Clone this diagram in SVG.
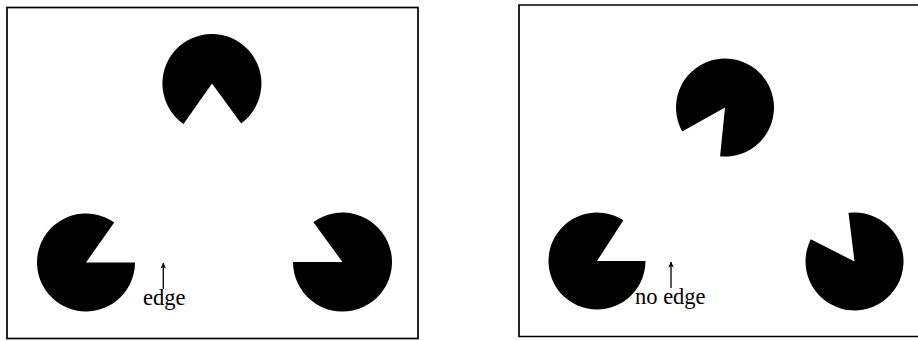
<svg xmlns="http://www.w3.org/2000/svg" width="918" height="341" viewBox="0 0 918 341">
<style>
.frame{fill:none;stroke:#000;stroke-width:1.7}
.pac{fill:#000}
.lbl{font-family:"Liberation Serif","Times New Roman",serif;font-size:22.5px;fill:#000}
.arr{stroke:#000;stroke-width:1.3;fill:none}
</style>
<defs>
<marker id="ah" viewBox="0 0 10 10" refX="9" refY="5" markerWidth="7" markerHeight="6" orient="auto" markerUnits="userSpaceOnUse">
<path d="M0,0.5 L10,5 L0,9.5 L2.5,5 Z" fill="#000"/>
</marker>
</defs>
<rect width="918" height="341" fill="#fff"/>
<g id="panel-left">
<rect class="frame" x="7" y="7.5" width="411" height="331"/>
<g id="pac-l-top"><path class="pac" d="M212,83.5 L241.2,123.4 A49.5,49.5 0 1 0 183.5,124 Z"/></g>
<g id="pac-l-bl"><path class="pac" d="M86,262.5 L135,262.5 A49,49 0 1 1 114.2,222.4 Z"/></g>
<g id="pac-l-br"><path class="pac" d="M342.5,262 L293,262 A49.5,49.5 0 1 0 313.3,222.1 Z"/></g>
<g id="label-edge"><text class="lbl" x="143" y="305">edge</text></g>
</g>
<g id="panel-right">
<path class="frame" d="M930,5 L519,5 L519,336.5 L930,336.5"/>
<g id="pac-r-top"><path class="pac" d="M725,107.5 L720.1,156.3 A49,49 0 1 0 682.2,131.4 Z"/></g>
<g id="pac-r-bl"><path class="pac" d="M597,261 L645.5,261 A48.5,48.5 0 1 1 623.4,220.3 Z"/></g>
<g id="pac-r-br"><path class="pac" d="M854.5,261.5 L848.5,212.8 A49,49 0 1 1 810.8,239.3 Z"/></g>
<g id="label-noedge"><text class="lbl" x="635" y="304">no edge</text></g>
</g>
<g id="connectors">
<line class="arr" x1="163.3" y1="289" x2="163.3" y2="263" marker-end="url(#ah)"/>
<line class="arr" x1="671" y1="288" x2="671" y2="262" marker-end="url(#ah)"/>
</g>
</svg>
